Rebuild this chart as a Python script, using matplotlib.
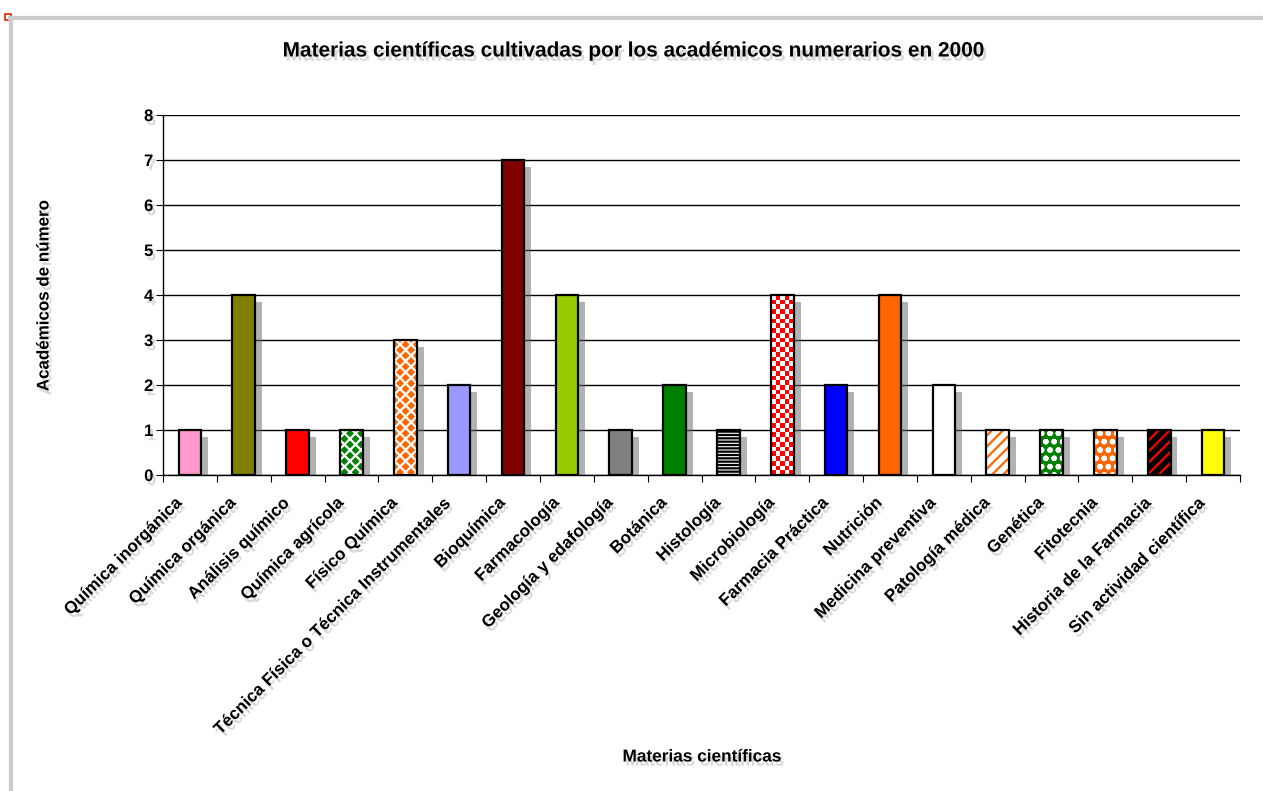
import numpy as np
import matplotlib
matplotlib.use("Agg")
import matplotlib.pyplot as plt
import matplotlib.patheffects as pe
import matplotlib.transforms as mtrans
from matplotlib.patches import Rectangle
from matplotlib.lines import Line2D

# datos
materias = ["Química inorgánica", "Química orgánica", "Análisis químico",
            "Química agrícola", "Físico Química",
            "Técnica Física o Técnica Instrumentales", "Bioquímica",
            "Farmacología", "Geología y edafología", "Botánica", "Histología",
            "Microbiología", "Farmacia Práctica", "Nutrición",
            "Medicina preventiva", "Patología médica", "Genética",
            "Fitotecnia", "Historia de la Farmacia", "Sin actividad científica"]
academicos = [1, 4, 1, 1, 3, 2, 7, 4, 1, 2, 1, 4, 2, 4, 2, 1, 1, 1, 1, 1]

# estilo de cada barra: relleno, color de trama, trama
relleno = ["#FF99CC", "#808000", "#FF0000", "#008000", "#FF6600",
           "#9999FF", "#7F0000", "#99CC00", "#808080", "#008000", "#FFFFFF",
           "#FFFFFF", "#0000FF", "#FF6600", "#FFFFFF", "#FFFFFF", "#008000",
           "#FF6600", "#000000", "#FFFF00"]
trama_color = [None, None, None, "#FFFFFF", "#FFFFFF", None, None, None, None,
               None, "#000000", None, None, None, None, "#FF6600", "#FFFFFF",
               "#FFFFFF", "#FF0000", None]
trama = [None, None, None, "xxx", "xxx", None, None, None, None, None, "-----",
         "checker", None, None, None, "///", "oo", "oo", "///", None]

plt.rcParams['font.family'] = ['Liberation Sans', 'DejaVu Sans']
plt.rcParams['font.weight'] = 'bold'
plt.rcParams['hatch.linewidth'] = 1.6

sombra_txt = [pe.withSimplePatchShadow(offset=(2, -3), shadow_rgbFace='0.5',
                                       alpha=0.3)]

fig = plt.figure(figsize=(12.63, 7.91), dpi=100)
ax = fig.add_axes([163 / 1263, 1 - 475 / 791, (1240 - 163) / 1263,
                   (475 - 115) / 791])

x = np.arange(len(materias))
ancho = 0.42

# barras base con sombra
base = ax.bar(x, academicos, width=ancho, color=relleno, linewidth=0,
              zorder=3)
for b in base:
    b.set_path_effects([pe.SimplePatchShadow(offset=(5, -5),
                                             shadow_rgbFace='0.4',
                                             alpha=0.5), pe.Normal()])

# tramas
for i, b in enumerate(base):
    if trama[i] is None:
        continue
    if trama[i] == "checker":
        h = b.get_height()
        filas = int(round(h * 9.6))
        tablero = (np.indices((filas, 5)).sum(axis=0) % 2)
        im = ax.imshow(tablero, cmap=matplotlib.colors.ListedColormap(
            ["#FFFFFF", "#FF0000"]), interpolation='nearest', aspect='auto',
            extent=(b.get_x(), b.get_x() + b.get_width(), 0, h), zorder=4)
        im.set_clip_path(b)
        continue
    ax.bar(x[i], academicos[i], width=ancho, color='none',
           edgecolor=trama_color[i], hatch=trama[i], linewidth=0, zorder=4)

# contorno
ax.bar(x, academicos, width=ancho, color='none', edgecolor='black',
       linewidth=1.6, zorder=5)

ax.set_xlim(-0.5, len(materias) - 0.5)
ax.set_ylim(0, 8)
ax.set_yticks(range(0, 9))
ax.set_xticks(np.arange(len(materias) + 1) - 0.5, minor=False)
ax.set_xticklabels([])
ax.set_xticks(x, minor=True)
ax.set_xticklabels(materias, minor=True, rotation=45, ha='right',
                   va='center', rotation_mode='anchor', fontsize=12.3,
                   fontweight='bold')
ax.tick_params(axis='x', which='minor', length=0, pad=18)
ax.tick_params(axis='x', which='major', length=5, direction='out')
ax.tick_params(axis='y', length=5, direction='out', labelsize=12, pad=2)
desplaza = mtrans.ScaledTranslation(-10 / 100, 0, fig.dpi_scale_trans)
for t in ax.get_xticklabels(minor=True):
    t.set_transform(t.get_transform() + desplaza)
for t in ax.get_yticklabels() + ax.get_xticklabels(minor=True):
    t.set_fontweight('bold')
    t.set_path_effects(sombra_txt)

ax.grid(axis='y', color='black', linewidth=1.0, zorder=1)
ax.set_axisbelow(True)
for s in ['top', 'right']:
    ax.spines[s].set_visible(False)
ax.spines['left'].set_linewidth(1.0)
ax.spines['bottom'].set_linewidth(1.0)

fig.text(0.5 * (285 + 985) / 1263, 1 - 51 / 791,
         "Materias científicas cultivadas por los académicos numerarios en 2000",
         ha='center', va='center', fontsize=15, fontweight='bold',
         path_effects=sombra_txt)
fig.text(702 / 1263, 1 - 757 / 791, "Materias científicas", ha='center',
         va='center', fontsize=12.4, fontweight='bold', path_effects=sombra_txt)
fig.text(44 / 1263, 1 - 296 / 791, "Académicos de número", ha='center',
         va='center', rotation=90, fontsize=12.2, fontweight='bold',
         path_effects=sombra_txt)

# marco gris de la hoja
fig.add_artist(Line2D([10 / 1263, 1], [1 - 18 / 791, 1 - 18 / 791],
                      color='#CCCCCC', linewidth=3, transform=fig.transFigure))
fig.add_artist(Line2D([11 / 1263, 11 / 1263], [0, 1 - 18 / 791],
                      color='#CCCCCC', linewidth=3, transform=fig.transFigure))
fig.add_artist(Rectangle((5 / 1263, 1 - 20 / 791), 6 / 1263, 6 / 791,
                         facecolor='white', edgecolor='#DD2200', linewidth=1.2,
                         transform=fig.transFigure))

fig.savefig("out.png", dpi=100)
